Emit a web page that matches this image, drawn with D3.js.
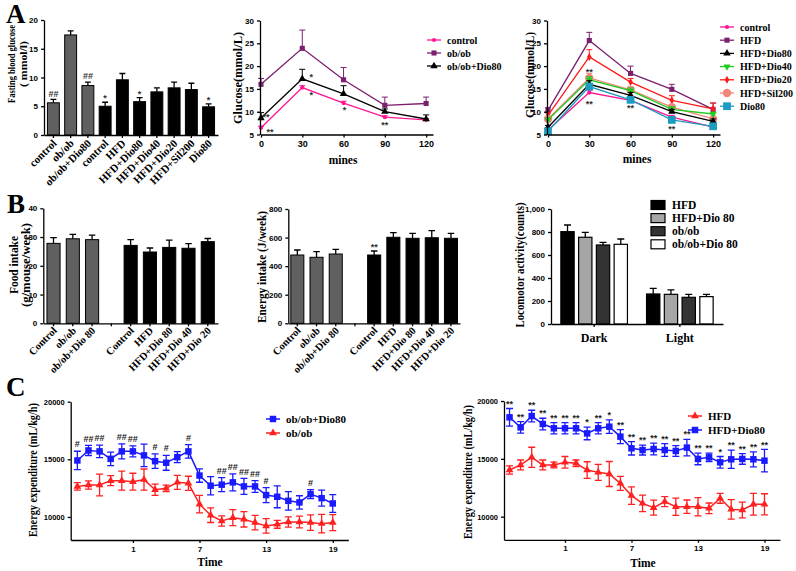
<!DOCTYPE html>
<html>
<head>
<meta charset="utf-8">
<script src="https://cdn.jsdelivr.net/npm/d3@7"></script>
<style>
  body { margin: 0; background: #fff; }
  text { font-family: "Liberation Serif", "Times New Roman", serif; font-weight: bold; }
</style>
</head>
<body>
<svg id="fig" width="796" height="571"></svg>
<script>
// ---- A: fasting glucose ----
const glucoseCats = ["control", "ob/ob", "ob/ob+Dio80", "control", "HFD", "HFD+Dio80", "HFD+Dio40", "HFD+Dio20", "HFD+Sil200", "Dio80"];
const glucoseGroup = ["ob", "ob", "ob", "hfd", "hfd", "hfd", "hfd", "hfd", "hfd", "hfd"];
const glucoseMean = [5.6, 17.4, 8.6, 5.0, 9.6, 5.8, 7.5, 8.2, 7.9, 4.9];
const glucoseErr = [0.6, 0.7, 0.6, 0.7, 1.1, 0.7, 0.7, 1.0, 1.1, 0.5];
const glucoseMarks = ["##", "", "##", "*", "", "*", "", "", "", "*"];

// ---- A: OGTT ----
const ogttTime = [0, 30, 60, 90, 120];
const obOgtt = [
  { key: "control", mean: [6.5, 15.3, 11.9, 8.8, 8.2], err: [0.3, 0.4, 0.4, 0.3, 0.3] },
  { key: "ob/ob", mean: [16.0, 23.9, 17.0, 11.4, 11.8], err: [1.3, 4.0, 2.7, 1.8, 1.4] },
  { key: "ob/ob+Dio80", mean: [8.6, 17.2, 13.9, 10.0, 8.4], err: [1.2, 2.1, 1.8, 0.6, 0.9] }
];
const obOgttNotes = [
  { key: "ob/ob+Dio80", t: 0, text: "**", dx: 5, dy: -3 },
  { key: "control", t: 0, text: "**", dx: 9, dy: 2 },
  { key: "ob/ob+Dio80", t: 30, text: "*", dx: 9, dy: -4 },
  { key: "control", t: 30, text: "*", dx: 9, dy: 5 },
  { key: "control", t: 60, text: "*", dx: 1, dy: 5 },
  { key: "control", t: 90, text: "**", dx: 0, dy: 6 }
];
const hfdOgtt = [
  { key: "control", mean: [6.0, 14.2, 12.5, 8.8, 6.6], err: [0.3, 0.5, 0.4, 0.4, 0.3] },
  { key: "HFD", mean: [10.3, 25.6, 18.4, 14.9, 10.5], err: [0.6, 1.8, 1.6, 1.1, 1.4] },
  { key: "HFD+Dio80", mean: [6.6, 16.0, 13.6, 10.0, 7.9], err: [0.4, 0.8, 0.6, 0.5, 0.5] },
  { key: "HFD+Dio40", mean: [8.2, 17.0, 14.6, 10.5, 9.5], err: [0.4, 0.7, 0.6, 0.6, 0.4] },
  { key: "HFD+Dio20", mean: [9.2, 22.0, 16.5, 12.5, 10.6], err: [0.5, 1.6, 0.8, 1.0, 1.3] },
  { key: "HFD+Sil200", mean: [8.4, 17.4, 14.8, 11.0, 8.4], err: [0.4, 1.0, 0.6, 0.6, 0.4] },
  { key: "Dio80", mean: [5.7, 15.5, 12.6, 8.2, 6.8], err: [0.4, 0.6, 0.5, 0.5, 0.4] }
];
const hfdOgttNotes = [
  { key: "HFD+Sil200", t: 30, text: "**", dx: 0, dy: -8 },
  { key: "control", t: 30, text: "**", dx: 0, dy: 9 },
  { key: "control", t: 60, text: "**", dx: 0, dy: 5 },
  { key: "Dio80", t: 90, text: "**", dx: 0, dy: 7 }
];

// ---- B: intake ----
const intakeCats = ["Control", "ob/ob", "ob/ob+Dio 80", "", "Control", "HFD", "HFD+Dio 80", "HFD+Dio 40", "HFD+Dio 20"];
const intakeGroup = ["ob", "ob", "ob", "", "hfd", "hfd", "hfd", "hfd", "hfd"];
const foodMean = [27.8, 29.4, 29.1, null, 27.1, 24.8, 26.4, 26.1, 28.4];
const foodErr = [2.0, 1.5, 1.6, null, 2.0, 1.4, 2.5, 1.6, 1.1];
const energyMean = [478, 462, 485, null, 478, 602, 595, 599, 595];
const energyErr = [35, 39, 33, null, 28, 32, 35, 49, 35];
const energyMarks = ["", "", "", "", "**", "", "", "", ""];

// ---- B: locomotor ----
const locoPhases = ["Dark", "Light"];
const locoGroups = ["HFD", "HFD+Dio 80", "ob/ob", "ob/ob+Dio 80"];
const locoMean = [[803, 754, 687, 693], [261, 258, 232, 238]];
const locoErr = [[58, 43, 23, 46], [49, 38, 26, 20]];

// ---- C: energy expenditure ----
const hours = [-4, -3, -2, -1, 0, 1, 2, 3, 4, 5, 6, 7, 8, 9, 10, 11, 12, 13, 14, 15, 16, 17, 18, 19];
const obDioEE = [14900, 15770, 15690, 15040, 15690, 15690, 15340, 14840, 14700, 15190, 15690, 13590, 12710, 12800, 13000, 12650, 12650, 11900, 11750, 11400, 11260, 11980, 11630, 11170];
const obDioEEErr = [800, 440, 540, 580, 650, 470, 980, 630, 650, 480, 580, 580, 790, 610, 730, 690, 510, 650, 950, 800, 580, 390, 690, 770];
const obEE = [12650, 12770, 12770, 13150, 13150, 13060, 13240, 12360, 12480, 13000, 12920, 11110, 10150, 9650, 9940, 9800, 9510, 9220, 9360, 9560, 9560, 9510, 9420, 9510];
const obEEErr = [330, 360, 950, 440, 830, 730, 920, 480, 280, 610, 610, 760, 630, 440, 690, 670, 630, 630, 340, 440, 510, 670, 800, 700];
const obEEMarks = ["#", "##", "##", "", "##", "##", "", "#", "#", "", "#", "", "", "##", "##", "##", "##", "#", "", "", "", "#", "", ""];
const hfdDioEE = [18590, 17720, 18700, 18010, 17640, 17640, 17640, 17200, 17640, 17780, 16920, 15910, 15760, 15850, 15760, 15680, 15970, 14990, 15130, 14700, 14960, 14990, 14960, 14840];
const hfdDioEEErr = [760, 500, 500, 500, 490, 490, 490, 550, 490, 580, 610, 580, 430, 500, 550, 460, 720, 500, 360, 500, 790, 460, 650, 970];
const hfdEE = [14030, 14470, 15130, 14470, 14470, 14700, 14610, 14030, 13830, 13690, 12880, 11820, 11150, 10780, 11300, 10860, 10860, 10860, 10720, 11590, 10630, 10580, 11070, 11070];
const hfdEEErr = [360, 430, 870, 430, 250, 500, 290, 720, 690, 1080, 610, 750, 720, 650, 430, 750, 580, 790, 460, 430, 840, 680, 940, 910];
const hfdEEMarks = ["**", "**", "**", "**", "**", "**", "**", "*", "**", "*", "**", "**", "**", "**", "**", "**", "**", "**", "**", "*", "**", "**", "**", "**"];

// ---- styles ----
const serif = '"Liberation Serif", "Times New Roman", serif';
const sans = '"Liberation Sans", Arial, sans-serif';
const seriesStyle = {
  "control": { color: "#ff1493", symbol: d3.symbolCircle, size: 14 },
  "ob/ob": { color: "#7b1f6f", symbol: d3.symbolSquare, size: 26 },
  "HFD": { color: "#7b1f6f", symbol: d3.symbolSquare, size: 26 },
  "ob/ob+Dio80": { color: "#000", symbol: d3.symbolTriangle, size: 24 },
  "HFD+Dio80": { color: "#000", symbol: d3.symbolTriangle, size: 24 },
  "HFD+Dio40": { color: "#1fcc1f", symbol: d3.symbolTriangle, size: 22, rotate: 180 },
  "HFD+Dio20": { color: "#ff1a1a", symbol: d3.symbolDiamond, size: 18 },
  "HFD+Sil200": { color: "#f4857c", symbol: d3.symbolCircle, size: 55 },
  "Dio80": { color: "#1b9cc0", symbol: d3.symbolSquare, size: 60 }
};
const groupFill = { ob: "#606060", hfd: "#000" };
const locoFill = ["#000", "#a6a6a6", "#333", "#fff"];

const svg = d3.select("#fig");
svg.append("rect").attr("width", 796).attr("height", 571).attr("fill", "#fff");

function styleAxis(sel, fs) {
  sel.selectAll("path,line").attr("stroke", "#000").attr("stroke-width", 1.3);
  sel.selectAll("text").style("font-family", sans).style("font-weight", "bold")
    .style("font-size", fs + "px").attr("fill", "#000");
}

function yTitle(text, x, cy, len, fs) {
  svg.append("text").attr("transform", `translate(${x},${cy}) rotate(-90)`)
    .attr("text-anchor", "middle").style("font-size", fs + "px")
    .attr("textLength", len).attr("lengthAdjust", "spacingAndGlyphs").text(text);
}

function plainText(text, x, y, fs, anchor) {
  svg.append("text").attr("x", x).attr("y", y).attr("text-anchor", anchor || "middle")
    .style("font-size", fs + "px").text(text);
}

// mark label baseline so the glyph sits `gap` px above yTop
function markY(label, yTop, gap) {
  return yTop - gap + (label.includes("#") ? 3.2 : 5.2);
}

function barPanel(o) {
  const g = svg.append("g");
  const n = o.labels.length;
  const x = d3.scaleBand().domain(d3.range(n)).range([o.x0, o.x1])
    .paddingInner(o.pi).paddingOuter(o.po);
  const y = d3.scaleLinear().domain([0, o.yMax]).range([o.y0, o.y1]);
  const cx = i => x(i) + x.bandwidth() / 2;
  const idx = d3.range(n).filter(i => o.mean[i] != null);
  const cap = x.bandwidth() * 0.5;

  g.selectAll(".eb").data(idx).join("path")
    .attr("d", i => {
      const t = y(o.mean[i] + o.err[i]);
      return `M${cx(i)},${y(o.mean[i])}V${t}M${cx(i) - cap / 2},${t}h${cap}`;
    })
    .attr("fill", "none").attr("stroke", "#000").attr("stroke-width", 1.3);

  g.selectAll(".bar").data(idx).join("rect")
    .attr("x", i => x(i)).attr("width", x.bandwidth())
    .attr("y", i => y(o.mean[i])).attr("height", i => y(0) - y(o.mean[i]))
    .attr("fill", i => groupFill[o.group[i]]).attr("stroke", "#000").attr("stroke-width", 1);

  const ax = g.append("g").attr("transform", `translate(0,${o.y0})`)
    .call(d3.axisBottom(x).tickSize(3).tickSizeOuter(0).tickFormat(i => o.labels[i]));
  styleAxis(ax, 8);
  ax.selectAll("text").style("font-family", serif).style("font-size", o.labelSize + "px")
    .attr("text-anchor", "end").attr("y", 0).attr("dy", 0)
    .attr("transform", `translate(4,${o.labelDy}) rotate(-45)`);

  const ay = g.append("g").attr("transform", `translate(${o.x0},0)`)
    .call(d3.axisLeft(y).tickValues(o.ticks).tickSize(3).tickSizeOuter(0));
  styleAxis(ay, 8);

  if (o.marks) {
    g.selectAll(".mk").data(idx.filter(i => o.marks[i])).join("text")
      .attr("x", cx)
      .attr("y", i => markY(o.marks[i], y(o.mean[i] + o.err[i]), 6))
      .attr("text-anchor", "middle").style("font-family", sans).style("font-size", "9px")
      .attr("fill", "#333").text(i => o.marks[i]);
  }
}

function ogttPanel(o) {
  const g = svg.append("g");
  const x = d3.scaleLinear().domain([0, 125]).range([o.x0, o.x1]);
  const y = d3.scaleLinear().domain([5, 30]).range([134.5, 20.5]);
  const line = d3.line().x(d => x(d.t)).y(d => y(d.v));

  o.series.forEach(s => {
    const st = seriesStyle[s.key];
    const pts = ogttTime.map((t, i) => ({ t, v: s.mean[i], e: s.err[i] }));
    g.append("path").datum(pts).attr("d", line)
      .attr("fill", "none").attr("stroke", st.color).attr("stroke-width", 1.3);
    g.append("g").selectAll("path").data(pts).join("path")
      .attr("d", d => `M${x(d.t)},${y(d.v)}V${y(d.v + d.e)}M${x(d.t) - 3},${y(d.v + d.e)}h6`)
      .attr("fill", "none").attr("stroke", st.color).attr("stroke-width", 1);
    g.append("g").selectAll("path").data(pts).join("path")
      .attr("transform", d => `translate(${x(d.t)},${y(d.v)}) rotate(${st.rotate || 0})`)
      .attr("d", d3.symbol(st.symbol, st.size)).attr("fill", st.color);
  });

  const ax = g.append("g").attr("transform", `translate(0,${y(5)})`)
    .call(d3.axisBottom(x).tickValues(ogttTime).tickSize(3).tickSizeOuter(0));
  styleAxis(ax, 9);
  const ay = g.append("g").attr("transform", `translate(${o.x0 - 1},0)`)
    .call(d3.axisLeft(y).tickValues([5, 10, 15, 20, 25, 30]).tickSize(3).tickSizeOuter(0));
  styleAxis(ay, 8);

  const byKey = Object.fromEntries(o.series.map(s => [s.key, s]));
  g.selectAll(".note").data(o.notes).join("text")
    .attr("x", d => x(d.t) + d.dx)
    .attr("y", d => y(byKey[d.key].mean[ogttTime.indexOf(d.t)]) + d.dy + 5.2)
    .attr("text-anchor", "middle").style("font-family", sans).style("font-size", "9px")
    .attr("fill", "#333").text(d => d.text);

  const leg = g.append("g").selectAll("g").data(o.legend).join("g")
    .attr("transform", (d, i) => `translate(${o.legX},${o.legY + i * o.legStep})`);
  leg.append("line").attr("x1", 0).attr("x2", 14)
    .attr("stroke", d => seriesStyle[d].color).attr("stroke-width", 1.3);
  leg.append("path").attr("transform", d => `translate(7,0) rotate(${seriesStyle[d].rotate || 0})`)
    .attr("d", d => d3.symbol(seriesStyle[d].symbol, seriesStyle[d].size)())
    .attr("fill", d => seriesStyle[d].color);
  leg.append("text").attr("x", 20).attr("y", 3.5).style("font-size", o.legSize + "px").text(d => d);
}

function eePanel(o) {
  const g = svg.append("g");
  const x = d3.scaleLinear().domain(o.xDomain).range([o.x0, o.x1]);
  const y = d3.scaleLinear().domain([8000, 20000]).range([o.yBase, o.yTop]);
  const line = d3.line().x(d => x(d.t)).y(d => y(d.v));

  o.series.forEach(s => {
    const pts = hours.map((t, i) => ({ t, v: s.mean[i], e: s.err[i], m: s.marks ? s.marks[i] : "" }));
    g.append("path").datum(pts).attr("d", line)
      .attr("fill", "none").attr("stroke", s.color).attr("stroke-width", 1.5);
    g.append("g").selectAll("path").data(pts).join("path")
      .attr("d", d => {
        const a = y(d.v + d.e), b = y(d.v - d.e), c = x(d.t);
        return `M${c},${a}V${b}M${c - 3.5},${a}h7M${c - 3.5},${b}h7`;
      })
      .attr("fill", "none").attr("stroke", s.color).attr("stroke-width", 1.3);
    g.append("g").selectAll("path").data(pts).join("path")
      .attr("transform", d => `translate(${x(d.t)},${y(d.v)})`)
      .attr("d", d3.symbol(s.symbol, s.size)).attr("fill", s.color);
    g.append("g").selectAll("text").data(pts.filter(d => d.m)).join("text")
      .attr("x", d => x(d.t)).attr("y", d => markY(d.m, y(d.v + d.e), 7))
      .attr("text-anchor", "middle").style("font-family", sans).style("font-size", "9px")
      .attr("fill", "#222").text(d => d.m);
  });

  const ax = g.append("g").attr("transform", `translate(0,${o.yBase})`)
    .call(d3.axisBottom(x).tickValues([1, 7, 13, 19]).tickSize(3).tickSizeOuter(0));
  styleAxis(ax, 8);
  const ay = g.append("g").attr("transform", `translate(${o.x0},0)`)
    .call(d3.axisLeft(y).tickValues([10000, 15000, 20000]).tickFormat(d3.format("d")).tickSize(3).tickSizeOuter(0));
  styleAxis(ay, 7.5);

  const leg = g.append("g").selectAll("g").data(o.legend).join("g")
    .attr("transform", (d, i) => `translate(${o.legX},${o.legY + i * 14})`);
  leg.append("line").attr("x1", 0).attr("x2", 14).attr("stroke", d => d.color).attr("stroke-width", 1.5);
  leg.append("path").attr("transform", "translate(7,0)")
    .attr("d", d => d3.symbol(d.symbol, d.size)()).attr("fill", d => d.color);
  leg.append("text").attr("x", 20).attr("y", 4).style("font-size", "11px").text(d => d.label);
}

// ================= A =================
plainText("A", 6, 23, 27, "start");
barPanel({
  labels: glucoseCats, group: glucoseGroup, mean: glucoseMean, err: glucoseErr, marks: glucoseMarks,
  x0: 44, x1: 218, y0: 135, y1: 20, yMax: 20, ticks: [0, 5, 10, 15, 20],
  pi: 0.31, po: 0.2, labelSize: 11, labelDy: 9
});
yTitle("Fasting blood glucose", 15, 64, 78, 10.5);
yTitle("( mmol/l)", 27, 64, 46, 11);

ogttPanel({
  series: obOgtt, notes: obOgttNotes, x0: 261, x1: 433,
  legend: ["control", "ob/ob", "ob/ob+Dio80"], legX: 427, legY: 40, legStep: 13, legSize: 10
});
yTitle("Glucose(mmol/L)", 242, 78, 92, 12);
plainText("mines", 343, 164, 11.5);

ogttPanel({
  series: [hfdOgtt[1], hfdOgtt[4], hfdOgtt[5], hfdOgtt[3], hfdOgtt[2], hfdOgtt[0], hfdOgtt[6]],
  notes: hfdOgttNotes, x0: 548, x1: 720,
  legend: hfdOgtt.map(s => s.key), legX: 720, legY: 27, legStep: 13.2, legSize: 10
});
yTitle("Glucose(mmol/L)", 534, 75, 86, 12);
plainText("mines", 637, 163, 11.5);

// ================= B =================
plainText("B", 7, 213, 27, "start");
barPanel({
  labels: intakeCats, group: intakeGroup, mean: foodMean, err: foodErr,
  x0: 43.3, x1: 218, y0: 323.3, y1: 208.3, yMax: 40, ticks: [0, 10, 20, 30, 40],
  pi: 0.32, po: 0.19, labelSize: 10.5, labelDy: 8
});
yTitle("Food intake", 18, 265, 58, 12);
yTitle("(g/mouse/week)", 30, 265, 84, 12);

barPanel({
  labels: intakeCats, group: intakeGroup, mean: energyMean, err: energyErr, marks: energyMarks,
  x0: 288.3, x1: 460, y0: 323.3, y1: 209, yMax: 800, ticks: [0, 200, 400, 600, 800],
  pi: 0.32, po: 0.13, labelSize: 10.5, labelDy: 8
});
yTitle("Energy intake (J/week)", 266, 267, 112, 11.5);

(function locoPanel() {
  const g = svg.append("g");
  const x0 = d3.scaleBand().domain(locoPhases).range([551, 723]).paddingInner(0.223).paddingOuter(0.115);
  const x1 = d3.scaleBand().domain(d3.range(locoGroups.length)).range([0, x0.bandwidth()]).paddingInner(0.25);
  const y = d3.scaleLinear().domain([0, 1000]).range([324, 209]);
  const cells = locoPhases.flatMap((p, pi) => locoGroups.map((grp, gi) => ({ p, gi, v: locoMean[pi][gi], e: locoErr[pi][gi] })));
  const cx = d => x0(d.p) + x1(d.gi) + x1.bandwidth() / 2;
  g.selectAll(".eb").data(cells).join("path")
    .attr("d", d => `M${cx(d)},${y(d.v)}V${y(d.v + d.e)}M${cx(d) - 3.5},${y(d.v + d.e)}h7`)
    .attr("fill", "none").attr("stroke", "#000").attr("stroke-width", 1.3);
  g.selectAll(".bar").data(cells).join("rect")
    .attr("x", d => x0(d.p) + x1(d.gi)).attr("width", x1.bandwidth())
    .attr("y", d => y(d.v)).attr("height", d => y(0) - y(d.v))
    .attr("fill", d => locoFill[d.gi]).attr("stroke", "#000").attr("stroke-width", 1.2);
  const ax = g.append("g").attr("transform", "translate(0,324)")
    .call(d3.axisBottom(x0).tickSize(3).tickSizeOuter(0));
  styleAxis(ax, 12);
  ax.selectAll("text").style("font-family", serif).attr("dy", "1em");
  const ay = g.append("g").attr("transform", "translate(551,0)")
    .call(d3.axisLeft(y).tickValues([0, 200, 400, 600, 800, 1000]).tickSize(3).tickSizeOuter(0));
  styleAxis(ay, 8);
  const leg = g.append("g").selectAll("g").data(locoGroups).join("g")
    .attr("transform", (d, i) => `translate(651,${205 + i * 13.1})`);
  leg.append("rect").attr("x", 0).attr("y", -4.5).attr("width", 14).attr("height", 9)
    .attr("fill", (d, i) => locoFill[i]).attr("stroke", "#000").attr("stroke-width", 1.2);
  leg.append("text").attr("x", 21).attr("y", 4).style("font-size", "11.5px").text(d => d);
})();
yTitle("Locomotor activity(counts)", 524, 265, 125, 11.5);

// ================= C =================
plainText("C", 6, 396, 27, "start");
eePanel({
  xDomain: [-4.6, 20.4], x0: 70.7, x1: 348.3, yBase: 540, yTop: 401.7,
  series: [
    { mean: obEE, err: obEEErr, color: "#ff2020", symbol: d3.symbolTriangle, size: 26 },
    { mean: obDioEE, err: obDioEEErr, marks: obEEMarks, color: "#1a1aff", symbol: d3.symbolSquare, size: 42 }
  ],
  legend: [
    { label: "ob/ob+Dio80", color: "#1a1aff", symbol: d3.symbolSquare, size: 42 },
    { label: "ob/ob", color: "#ff2020", symbol: d3.symbolTriangle, size: 26 }
  ],
  legX: 266, legY: 419
});
yTitle("Energy expenditure (mL/kg/h)", 37, 470, 134, 11.5);
plainText("Time", 210, 566, 11.5);

eePanel({
  xDomain: [-4.5, 20.4], x0: 504, x1: 780, yBase: 539.8, yTop: 401,
  series: [
    { mean: hfdEE, err: hfdEEErr, color: "#ff2020", symbol: d3.symbolTriangle, size: 26 },
    { mean: hfdDioEE, err: hfdDioEEErr, marks: hfdEEMarks, color: "#1a1aff", symbol: d3.symbolSquare, size: 42 }
  ],
  legend: [
    { label: "HFD", color: "#ff2020", symbol: d3.symbolTriangle, size: 26 },
    { label: "HFD+Dio80", color: "#1a1aff", symbol: d3.symbolSquare, size: 42 }
  ],
  legX: 688, legY: 416
});
yTitle("Energy expenditure (mL/kg/h)", 472, 472, 134, 11.5);
plainText("Time", 643, 567, 11.5);
</script>
</body>
</html>
